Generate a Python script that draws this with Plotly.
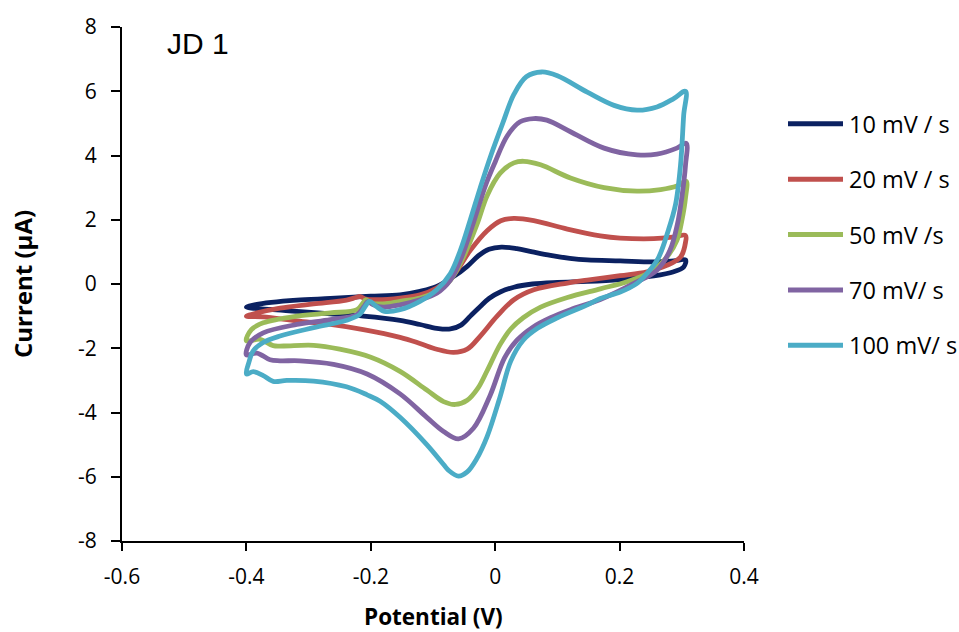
import plotly.graph_objects as go

# ---------------- data ----------------
series_names = ["10 mV / s", "20 mV / s", "50 mV /s", "70 mV/ s", "100 mV/ s"]
series_colors = ["#0B2161", "#C0504D", "#9BBB59", "#8064A2", "#4BACC6"]

v_10 = [-0.400, -0.385, -0.360, -0.319, -0.265, -0.228, -0.200, -0.153, -0.121, -0.094, -0.067, -0.045,
        -0.027, -0.010, 0.010, 0.035, 0.060, 0.089, 0.120, 0.148, 0.201, 0.255, 0.287, 0.306,
        0.303, 0.287, 0.255, 0.201, 0.148, 0.100, 0.060, 0.030, 0.008, -0.010, -0.024, -0.040,
        -0.055, -0.072, -0.094, -0.121, -0.153, -0.212, -0.265, -0.319, -0.362, -0.400]
i_10 = [-0.72, -0.64, -0.57, -0.50, -0.45, -0.41, -0.38, -0.34, -0.23, -0.08, 0.23, 0.55,
        0.88, 1.08, 1.15, 1.10, 1.00, 0.89, 0.80, 0.75, 0.72, 0.69, 0.72, 0.75,
        0.53, 0.38, 0.25, 0.14, 0.08, 0.05, 0.00, -0.10, -0.25, -0.45, -0.70, -1.00,
        -1.28, -1.40, -1.38, -1.26, -1.13, -1.00, -0.93, -0.85, -0.79, -0.72]

v_20 = [-0.400, -0.383, -0.346, -0.292, -0.239, -0.224, -0.217, -0.208, -0.190, -0.153, -0.121, -0.094,
        -0.067, -0.040, -0.013, 0.009, 0.030, 0.062, 0.116, 0.169, 0.201, 0.255, 0.287, 0.306,
        0.306, 0.298, 0.276, 0.244, 0.201, 0.148, 0.116, 0.062, 0.030, 0.003, -0.024, -0.045,
        -0.067, -0.094, -0.121, -0.153, -0.212, -0.265, -0.319, -0.373, -0.400]
i_20 = [-1.00, -0.90, -0.75, -0.62, -0.50, -0.42, -0.39, -0.47, -0.49, -0.44, -0.34, -0.13,
        0.28, 1.05, 1.66, 1.97, 2.04, 1.97, 1.71, 1.50, 1.43, 1.41, 1.46, 1.51,
        1.30, 0.84, 0.58, 0.38, 0.26, 0.12, 0.03, -0.18, -0.49, -1.00, -1.62, -2.03,
        -2.13, -2.03, -1.85, -1.66, -1.42, -1.26, -1.15, -1.02, -1.00]

v_50 = [-0.400, -0.392, -0.373, -0.319, -0.265, -0.222, -0.213, -0.208, -0.200, -0.180, -0.153, -0.121,
        -0.094, -0.072, -0.051, -0.029, -0.013, 0.008, 0.030, 0.046, 0.073, 0.121, 0.175, 0.228,
        0.266, 0.292, 0.307,
        0.306, 0.300, 0.292, 0.276, 0.250, 0.212, 0.169, 0.116, 0.073, 0.045, 0.025, 0.008, -0.013,
        -0.028, -0.045, -0.064, -0.083, -0.110, -0.153, -0.200, -0.250, -0.292, -0.340, -0.357,
        -0.378, -0.400]
i_50 = [-1.77, -1.42, -1.21, -1.00, -0.90, -0.80, -0.60, -0.49, -0.59, -0.62, -0.54, -0.44,
        -0.23, 0.12, 0.84, 1.87, 2.75, 3.45, 3.77, 3.82, 3.71, 3.30, 3.00, 2.89,
        2.94, 3.05, 3.20,
        2.69, 1.97, 1.35, 0.84, 0.38, 0.07, -0.15, -0.42, -0.72, -1.05, -1.40, -1.88, -2.70,
        -3.25, -3.62, -3.75, -3.66, -3.30, -2.72, -2.28, -2.03, -1.91, -1.93, -1.92,
        -1.72, -1.77]

v_70 = [-0.400, -0.394, -0.373, -0.319, -0.265, -0.222, -0.211, -0.205, -0.196, -0.180, -0.153, -0.121,
        -0.094, -0.072, -0.054, -0.034, -0.015, 0.000, 0.019, 0.040, 0.062, 0.083, 0.121, 0.175,
        0.228, 0.260, 0.292, 0.307,
        0.306, 0.300, 0.293, 0.281, 0.260, 0.223, 0.169, 0.121, 0.089, 0.060, 0.035, 0.015, -0.008,
        -0.035, -0.059, -0.083, -0.110, -0.153, -0.206, -0.260, -0.314, -0.346, -0.362, -0.383,
        -0.400]
i_70 = [-2.21, -1.82, -1.52, -1.26, -1.11, -0.95, -0.70, -0.55, -0.65, -0.72, -0.65, -0.49,
        -0.29, 0.12, 0.84, 1.97, 3.10, 3.80, 4.60, 5.05, 5.15, 5.10, 4.74, 4.23,
        4.02, 4.04, 4.23, 4.38,
        3.71, 2.69, 1.87, 1.05, 0.43, 0.02, -0.48, -0.80, -1.05, -1.35, -1.75, -2.30, -3.46,
        -4.49, -4.82, -4.59, -4.15, -3.42, -2.80, -2.50, -2.39, -2.39, -2.36, -2.15,
        -2.21]

v_100 = [-0.400, -0.396, -0.389, -0.373, -0.346, -0.292, -0.239, -0.218, -0.209, -0.202, -0.191, -0.178,
         -0.153, -0.121, -0.094, -0.072, -0.056, -0.040, -0.024, -0.007, 0.012, 0.030, 0.050, 0.075,
         0.100, 0.148, 0.191, 0.228, 0.260, 0.287, 0.306,
         0.303, 0.298, 0.290, 0.278, 0.262, 0.244, 0.228, 0.201, 0.169, 0.148, 0.100, 0.068, 0.045,
         0.025, 0.008, -0.013, -0.030, -0.045, -0.059, -0.075, -0.083, -0.110, -0.153, -0.185,
         -0.206, -0.239, -0.292, -0.335, -0.357, -0.373, -0.389, -0.400]
i_100 = [-2.80, -2.44, -2.08, -1.82, -1.62, -1.36, -1.13, -0.95, -0.70, -0.54, -0.70, -0.85,
         -0.80, -0.54, -0.18, 0.33, 1.05, 2.00, 3.00, 4.00, 5.00, 5.90, 6.45, 6.60,
         6.48, 5.97, 5.56, 5.41, 5.51, 5.77, 6.00,
         5.25, 3.71, 2.48, 1.65, 0.80, 0.33, 0.02, -0.25, -0.45, -0.65, -1.05, -1.38, -1.75,
         -2.40, -3.50, -4.75, -5.45, -5.85, -5.98, -5.80, -5.62, -5.00, -4.15, -3.65,
         -3.45, -3.20, -3.02, -3.00, -3.03, -2.85, -2.73, -2.80]

x_tickvals = [-0.6, -0.4, -0.2, 0, 0.2, 0.4]
x_ticktext = ["-0.6", "-0.4", "-0.2", "0", "0.2", "0.4"]
y_tickvals = [-8, -6, -4, -2, 0, 2, 4, 6, 8]
y_ticktext = ["-8", "-6", "-4", "-2", "0", "2", "4", "6", "8"]

potentials = [v_10, v_20, v_50, v_70, v_100]
currents = [i_10, i_20, i_50, i_70, i_100]

# ---------------- figure ----------------
W, H = 959, 632
L, R, T, B = 122, 744, 21, 541   # plot area in pixels

fig = go.Figure()
for name, col, xs, ys in zip(series_names, series_colors, potentials, currents):
    fig.add_trace(go.Scatter(x=xs, y=ys, mode="lines", name=name,
                             line=dict(color=col, width=4.8, shape="spline", smoothing=1.0),
                             showlegend=False))

tick_font = dict(family="Open Sans, Lato, sans-serif", size=21, color="#000000")

fig.update_layout(
    width=W, height=H,
    margin=dict(l=L, r=W - R, t=T, b=H - B, pad=0),
    paper_bgcolor="white", plot_bgcolor="white",
    xaxis=dict(range=[-0.6, 0.4], tickvals=x_tickvals, ticktext=x_ticktext,
               showgrid=False, zeroline=False, showline=True, linecolor="black", linewidth=2,
               ticks="outside", ticklen=8, tickwidth=2, tickcolor="black",
               tickfont=tick_font, ticklabelstandoff=8),
    yaxis=dict(range=[-8, 8], tickvals=y_tickvals, ticktext=y_ticktext,
               showgrid=False, zeroline=False, showline=True, linecolor="black", linewidth=2,
               ticks="outside", ticklen=9, tickwidth=2, tickcolor="black",
               tickfont=tick_font, ticklabelstandoff=10),
)

pw, ph = R - L, B - T
def px_to_paper_x(px):
    return (px - L) / pw
def px_to_paper_y(py):
    return (B - py) / ph

# axis titles
fig.add_annotation(text="<b>Potential (V)</b>", xref="paper", yref="paper",
                   x=0.5, y=px_to_paper_y(617), xanchor="center", yanchor="middle",
                   showarrow=False, font=dict(family="Open Sans, Lato, sans-serif", size=22.5, color="black"))
fig.add_annotation(text="<b>Current (µA)</b>", xref="paper", yref="paper",
                   x=px_to_paper_x(22), y=0.5, xanchor="center", yanchor="middle",
                   textangle=-90, showarrow=False,
                   font=dict(family="Open Sans, Lato, sans-serif", size=24, color="black"))
# panel label
fig.add_annotation(text="JD 1", xref="paper", yref="paper",
                   x=px_to_paper_x(165), y=px_to_paper_y(38), xanchor="left", yanchor="middle",
                   showarrow=False, font=dict(family="Liberation Sans, Arial, sans-serif", size=30, color="black"))

# custom legend (long line samples like the original)
leg_x0, leg_x1, leg_tx = 788, 843, 847
leg_y0, leg_dy = 119, 56
for k, (name, col) in enumerate(zip(series_names, series_colors)):
    yy = px_to_paper_y(leg_y0 + k * leg_dy)
    fig.add_shape(type="line", xref="paper", yref="paper",
                  x0=px_to_paper_x(leg_x0), x1=px_to_paper_x(leg_x1), y0=yy, y1=yy,
                  line=dict(color=col, width=5))
    fig.add_annotation(text=name, xref="paper", yref="paper",
                       x=px_to_paper_x(leg_tx), y=yy, xanchor="left", yanchor="middle",
                       showarrow=False, font=dict(family="Open Sans, Lato, sans-serif", size=23.5, color="black"))

fig.write_html("out.html")
